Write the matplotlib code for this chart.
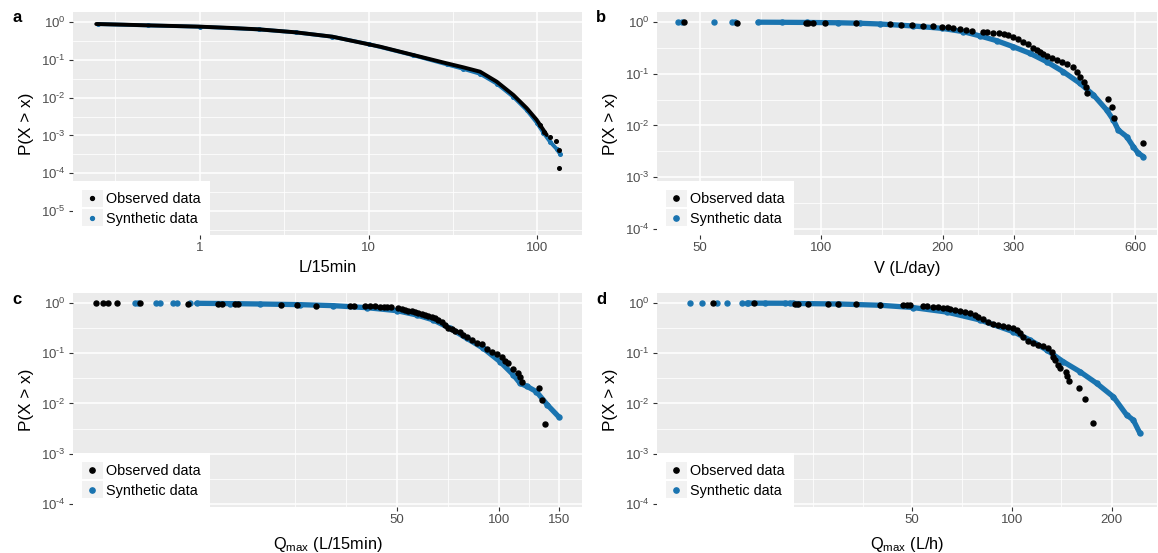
import numpy as np
import matplotlib
matplotlib.use("Agg")
import matplotlib.pyplot as plt
from matplotlib.legend_handler import HandlerBase
from matplotlib.patches import Rectangle
from matplotlib.lines import Line2D
from matplotlib.ticker import NullFormatter

plt.rcParams['font.family'] = ['Liberation Sans', 'DejaVu Sans']
plt.rcParams['mathtext.fontset'] = 'custom'
plt.rcParams['mathtext.rm'] = 'Liberation Sans'
plt.rcParams['mathtext.it'] = 'Liberation Sans:italic'
plt.rcParams['mathtext.bf'] = 'Liberation Sans:bold'

# ---------------- data (exceedance probabilities given as log10 P) ----------------
# panel a : L/15min
obs_a_x = [0.243, 0.35, 0.49, 0.7, 1.0, 1.5, 2.24, 3.7, 6.1, 10.0, 11.7, 18.4, 29.0, 36.4,
           45.7, 57.4, 72.0, 86.4, 99.0, 108.5, 113.5]
obs_a_logp = [-0.053, -0.07, -0.088, -0.105, -0.123, -0.155, -0.194, -0.273, -0.388, -0.59,
              -0.653, -0.873, -1.093, -1.199, -1.314, -1.579, -1.931, -2.28, -2.59, -2.857, -2.99]
obs_a_dots_x = [104.0, 110.0, 118.8, 128.9, 134.0, 134.9]
obs_a_dots_logp = [-2.72, -2.9, -3.05, -3.15, -3.39, -3.85]
syn_a_x = [0.25, 0.49, 1.0, 2.24, 3.7, 6.1, 10.0, 18.4, 29.0, 36.4, 45.7, 57.4, 72.0, 86.4,
           99.0, 108.5, 118.8, 130.0, 136.0]
syn_a_logp = [-0.055, -0.09, -0.125, -0.196, -0.275, -0.39, -0.585, -0.88, -1.12, -1.24, -1.37,
              -1.63, -1.98, -2.33, -2.66, -2.93, -3.17, -3.36, -3.49]

# panel b : V (L/day)
obs_b_x = [45.6, 61.9, 91.4, 92.8, 95.5, 102.3, 121.6, 148, 158, 167.5, 179, 189.6, 199, 206.5,
           212.5, 220.8, 229, 236, 252, 257, 267, 275, 283, 291, 299, 308, 317, 326, 335.5, 342,
           349, 355, 362, 373, 384, 395, 406, 422, 430, 438, 447, 453.5, 457, 515, 525, 532, 629]
obs_b_logp = [-0.005, -0.01, -0.015, -0.017, -0.019, -0.022, -0.028, -0.038, -0.052, -0.058,
              -0.071, -0.077, -0.09, -0.103, -0.116, -0.135, -0.155, -0.167, -0.187, -0.2, -0.206,
              -0.219, -0.238, -0.258, -0.284, -0.322, -0.38, -0.432, -0.496, -0.541, -0.586,
              -0.618, -0.657, -0.702, -0.734, -0.767, -0.812, -0.876, -0.96, -1.057, -1.154,
              -1.25, -1.378, -1.494, -1.636, -1.861, -2.332]
syn_b_dots_x = [44.2, 45.0, 54.2, 60.0, 61.1]
syn_b_dots_logp = [-0.001, -0.001, -0.002, -0.002, -0.002]
syn_b_x = [69.7, 80, 92, 110, 125, 139.8, 169.1, 198.9, 225, 247.6, 272, 299, 329, 362, 398,
           438, 473, 510, 530, 545, 572, 594, 611, 629]
syn_b_logp = [-0.004, -0.006, -0.009, -0.015, -0.025, -0.039, -0.077, -0.122, -0.187, -0.27,
              -0.361, -0.477, -0.605, -0.767, -0.96, -1.185, -1.41, -1.70, -1.894, -2.087,
              -2.216, -2.41, -2.537, -2.6]

# panel c : Qmax (L/15min)
obs_c_x = [6.46, 6.79, 6.98, 7.44, 8.71, 12.1, 14.8, 15.2, 16.6, 17.0, 22.7, 25.3, 28.8, 36.3,
           37.2, 40.2, 41.6, 43.0, 44.5, 45.6, 46.8, 47.9, 50.4, 51.6, 52.8, 54.0, 55.3, 56.5,
           57.8, 59.1, 60.5, 61.9, 63.3, 64.7, 66.2, 67.7, 69.3, 70.9, 72.5, 74.1, 76.7, 78.5,
           80.3, 83.1, 86.0, 88.9, 92.0, 95.2, 98.5, 101.9, 104.2, 106.6, 110.3, 114.1, 115.2,
           116.7, 131.6, 134.0, 136.4]
obs_c_logp = [-0.004, -0.004, -0.004, -0.005, -0.008, -0.012, -0.018, -0.02, -0.022, -0.024,
              -0.035, -0.042, -0.05, -0.053, -0.056, -0.06, -0.062, -0.066, -0.073, -0.075,
              -0.08, -0.086, -0.106, -0.126, -0.139, -0.153, -0.166, -0.186, -0.206, -0.219,
              -0.239, -0.259, -0.272, -0.305, -0.338, -0.385, -0.438, -0.491, -0.524, -0.551,
              -0.571, -0.637, -0.683, -0.736, -0.79, -0.822, -0.921, -0.969, -1.015, -1.069,
              -1.149, -1.188, -1.319, -1.399, -1.466, -1.566, -1.698, -1.93, -2.40]
syn_c_dots_x = [8.42, 8.56, 9.70, 9.99, 10.9, 11.2, 12.2]
syn_c_dots_logp = [-0.002, -0.002, -0.002, -0.002, -0.003, -0.003, -0.003]
syn_c_x = [12.8, 16, 19.7, 25.9, 32.4, 40.7, 50, 57.2, 64, 71.7, 80.3, 89.9, 100.7, 110.3,
           115.4, 121, 129, 139, 150]
syn_c_logp = [-0.006, -0.012, -0.02, -0.033, -0.053, -0.093, -0.153, -0.239, -0.338, -0.504,
              -0.703, -0.902, -1.168, -1.433, -1.598, -1.66, -1.765, -2.03, -2.263]

# panel d : Qmax (L/h)
obs_d_x = [12.5, 16.6, 22.1, 22.6, 24.3, 27.8, 29.9, 33.7, 40.0, 47.0, 48.1, 49.2, 54.0, 55.3,
           57.9, 59.9, 62.0, 63.5, 65.0, 67.3, 69.7, 72.1, 74.7, 77.3, 79.1, 81.9, 84.8, 87.8,
           90.9, 94.1, 97.4, 100.9, 103.3, 105.7, 108.2, 112.0, 115.9, 120.0, 124.3, 128.7,
           131.7, 133.2, 134.8, 137.9, 139.6, 145.5, 146.8, 148.6, 159.3, 166.0, 175.6]
obs_d_logp = [-0.004, -0.008, -0.012, -0.013, -0.016, -0.02, -0.022, -0.026, -0.035, -0.04,
              -0.042, -0.046, -0.053, -0.055, -0.073, -0.086, -0.093, -0.1, -0.113, -0.139,
              -0.159, -0.186, -0.206, -0.239, -0.272, -0.325, -0.371, -0.418, -0.438, -0.458,
              -0.484, -0.504, -0.537, -0.604, -0.67, -0.75, -0.803, -0.836, -0.856, -0.902,
              -0.969, -1.069, -1.134, -1.234, -1.3, -1.367, -1.453, -1.546, -1.698, -1.917, -2.395]
syn_d_dots_x = [10.7, 11.6, 12.9, 13.8, 15.3, 15.8, 21.4, 21.9]
syn_d_dots_logp = [-0.001, -0.001, -0.002, -0.002, -0.002, -0.002, -0.006, -0.006]
syn_d_x = [16.0, 18.0, 20.6, 22.4, 30, 40, 50.2, 63.5, 80, 100.9, 113.3, 127.3, 142.8, 160.4,
           180.1, 202.2, 221.9, 232.3, 243.4]
syn_d_logp = [-0.003, -0.004, -0.005, -0.01, -0.02, -0.045, -0.09, -0.18, -0.338, -0.571,
              -0.736, -0.935, -1.168, -1.367, -1.598, -1.865, -2.229, -2.328, -2.593]

legend_labels = ["Observed data", "Synthetic data"]
panel_letters = ["a", "b", "c", "d"]
x_titles = ["L/15min", "V (L/day)", r"Q$_{\mathrm{max}}$ (L/15min)", r"Q$_{\mathrm{max}}$ (L/h)"]
x_major = [[1, 10, 100], [50, 100, 200, 300, 600], [50, 100, 150], [50, 100, 200]]
x_minor = [[0.316, 3.16, 31.6], [70.7, 141, 245, 424], [25, 35.4, 70.7, 122.5],
           [25, 35.4, 70.7, 141]]
y_major_exp = [[0, -1, -2, -3, -4, -5], [0, -1, -2, -3, -4], [0, -1, -2, -3, -4],
               [0, -1, -2, -3, -4]]

OBS_COL = "black"
SYN_COL = "#1A74B0"

# ---------------- figure ----------------
W, H = 1158, 553
fig = plt.figure(figsize=(W / 100, H / 100), dpi=100)


def add_ax(l, r, t, b):
    return fig.add_axes([l / W, 1 - b / H, (r - l) / W, (b - t) / H])


class KeyHandler(HandlerBase):
    def __init__(self, color, ms):
        super().__init__()
        self.color = color
        self.ms = ms

    def create_artists(self, legend, orig_handle, xdescent, ydescent, width, height,
                       fontsize, trans):
        r = Rectangle((-xdescent, -ydescent), width, height, facecolor="#F2F2F2",
                      edgecolor="none", transform=trans)
        m = Line2D([width / 2 - xdescent], [height / 2 - ydescent], marker="o", ls="none",
                   color=self.color, ms=self.ms, transform=trans)
        return [r, m]


HYPHEN = "\u2010"


def exp_label(e):
    if e < 0:
        return "$10^{" + HYPHEN + str(-e) + "}$"
    return "$10^{" + str(e) + "}$"


boxes = [(73, 582, 12, 235), (657, 1157, 12, 235), (73, 582, 293, 507), (657, 1157, 293, 507)]
xlims = [(0.177, 183.6), (39.1, 680), (5.52, 175.8), (8.48, 274)]
ylims = [(10 ** -5.635, 10 ** 0.265), (10 ** -4.116, 10 ** 0.193), (10 ** -4.06, 10 ** 0.199),
         (10 ** -4.06, 10 ** 0.199)]
xtitle_off = [33, 33, 38, 38]
letter_pos = [(17, 18), (601, 18), (17, 300), (601, 299)]

data = [
    dict(obs_curve=(obs_a_x, obs_a_logp), obs_dots=(obs_a_dots_x, obs_a_dots_logp),
         syn_curve=(syn_a_x, syn_a_logp), syn_dots=None, ms=2.6, lw=2.8, leg_ms=2.8),
    dict(obs_curve=None, obs_dots=(obs_b_x, obs_b_logp),
         syn_curve=(syn_b_x, syn_b_logp), syn_dots=(syn_b_dots_x, syn_b_dots_logp),
         ms=3.6, lw=3.8, leg_ms=3.8),
    dict(obs_curve=None, obs_dots=(obs_c_x, obs_c_logp),
         syn_curve=(syn_c_x, syn_c_logp), syn_dots=(syn_c_dots_x, syn_c_dots_logp),
         ms=3.6, lw=3.8, leg_ms=3.8),
    dict(obs_curve=None, obs_dots=(obs_d_x, obs_d_logp),
         syn_curve=(syn_d_x, syn_d_logp), syn_dots=(syn_d_dots_x, syn_d_dots_logp),
         ms=3.6, lw=3.8, leg_ms=3.8),
]

for i in range(4):
    l, r, t, b = boxes[i]
    ax = add_ax(l, r, t, b)
    d = data[i]
    ax.set_facecolor("#EBEBEB")
    ax.set_xscale("log")
    ax.set_yscale("log")
    for s in ax.spines.values():
        s.set_visible(False)

    # synthetic
    sx, sl = d["syn_curve"]
    h_syn, = ax.plot(sx, 10 ** np.array(sl), "-", color=SYN_COL, lw=d["lw"],
                     solid_capstyle="round", zorder=3)
    ax.plot(sx, 10 ** np.array(sl), "o", color=SYN_COL, ms=d["ms"], zorder=3)
    if d["syn_dots"] is not None:
        dx, dl = d["syn_dots"]
        ax.plot(dx, 10 ** np.array(dl), "o", color=SYN_COL, ms=d["ms"], zorder=3)
    # observed
    if d["obs_curve"] is not None:
        ox, ol = d["obs_curve"]
        ax.plot(ox, 10 ** np.array(ol), "-", color=OBS_COL, lw=d["lw"],
                solid_capstyle="round", zorder=4)
    ox, ol = d["obs_dots"]
    h_obs, = ax.plot(ox, 10 ** np.array(ol), "o", color=OBS_COL, ms=d["ms"], zorder=4)

    ax.set_xticks(x_major[i])
    ax.set_xticklabels([str(v) for v in x_major[i]])
    ax.set_xticks(x_minor[i], minor=True)
    ax.xaxis.set_minor_formatter(NullFormatter())
    ye = y_major_exp[i]
    ax.set_yticks([10.0 ** e for e in ye])
    ax.set_yticklabels([exp_label(e) for e in ye])
    ymin_ = [10.0 ** (e - 0.5) for e in ye]
    ax.set_yticks(ymin_, minor=True)
    ax.yaxis.set_minor_formatter(NullFormatter())
    ax.set_ylim(*ylims[i])
    ax.set_xlim(*xlims[i])

    ax.set_axisbelow(True)
    ax.grid(which="major", color="white", lw=1.1)
    ax.grid(which="minor", color="white", lw=0.55)
    ax.tick_params(which="major", length=3, width=0.8, color="#333333", labelsize=9.5,
                   labelcolor="#4D4D4D", pad=2)
    ax.tick_params(which="minor", length=0)

    wpx = r - l
    hpx = b - t
    ax.set_ylabel("P(X > x)", fontsize=12.3)
    ax.yaxis.set_label_coords(-47 / wpx, 0.5)
    ax.yaxis.label.set_va("center")
    ax.set_xlabel(x_titles[i], fontsize=11.8)
    ax.xaxis.set_label_coords(0.5, -xtitle_off[i] / hpx)
    ax.xaxis.label.set_va("center")

    leg = ax.legend([h_obs, h_syn], legend_labels, loc="lower left", bbox_to_anchor=(0, 0),
                    borderaxespad=0, frameon=True, fancybox=False, framealpha=1,
                    facecolor="white", edgecolor="white", fontsize=10.4, handlelength=1.45,
                    handleheight=1.45, handletextpad=0.25, labelspacing=0.15, borderpad=0.6,
                    handler_map={h_obs: KeyHandler(OBS_COL, d["leg_ms"]),
                                 h_syn: KeyHandler(SYN_COL, d["leg_ms"])})
    leg.get_frame().set_linewidth(0)
    leg.set_zorder(10)

    lx, ly = letter_pos[i]
    fig.text(lx / W, 1 - ly / H, panel_letters[i], fontsize=12, fontweight="bold",
             ha="center", va="center")

fig.savefig("out.png", dpi=100, facecolor="white")
